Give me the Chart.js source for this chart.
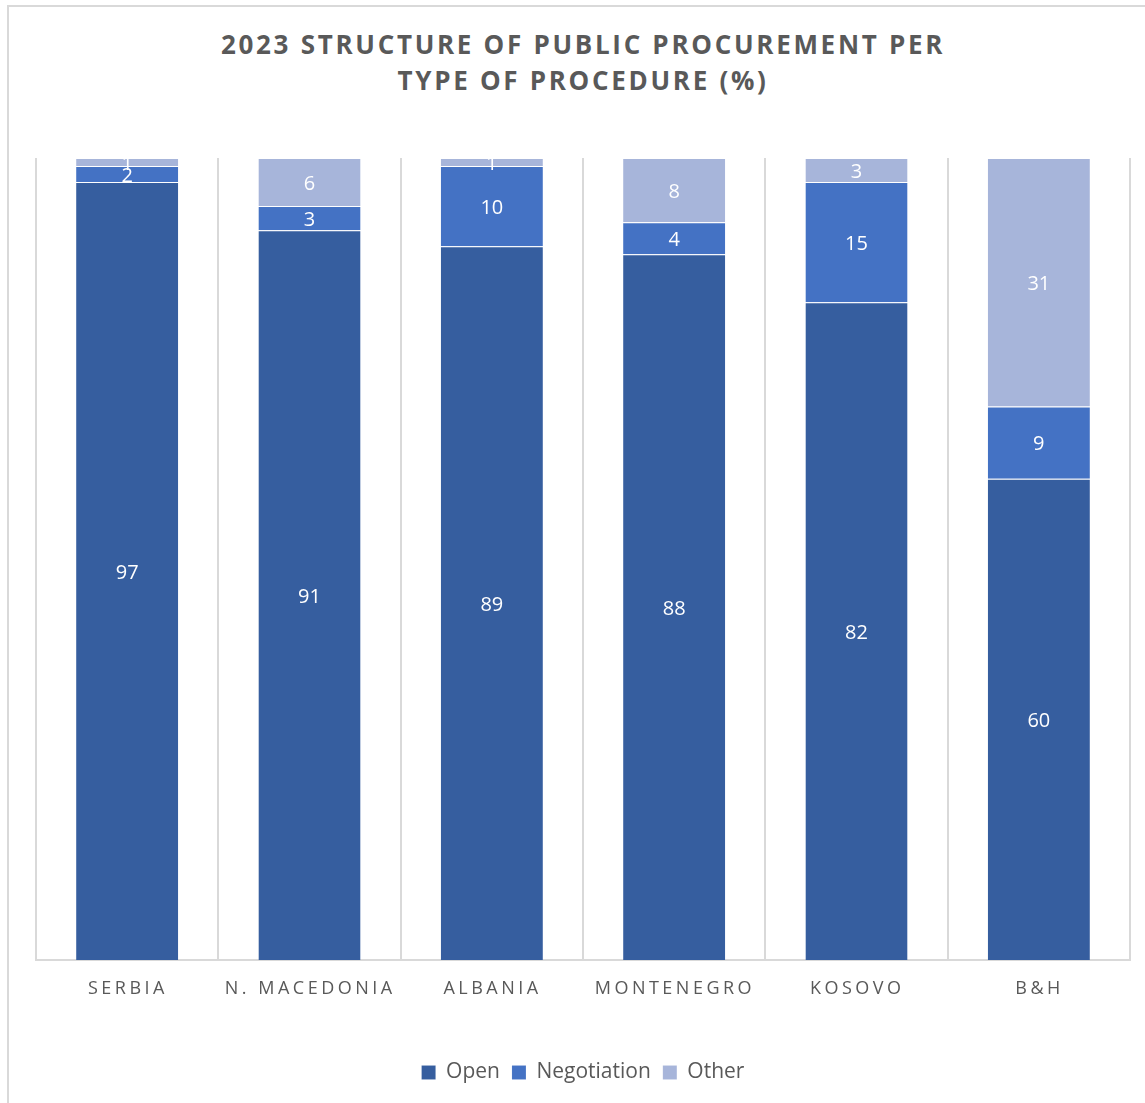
<!DOCTYPE html>
<html>
<head>
<meta charset="utf-8">
<script src="https://cdn.jsdelivr.net/npm/chart.js@4.4.1/dist/chart.umd.min.js"></script>
<style>
  html, body { margin: 0; padding: 0; background: #fff; overflow: hidden; }
  #wrap { position: relative; width: 1145px; height: 1103px; }
  #frame { position: absolute; left: 7px; top: 5px; width: 1300px; height: 1300px; border: 2px solid #d9d9d9; box-sizing: border-box; }
  #title { position: absolute; left: 36px; top: 26px; width: 1094px; text-align: center;
           font: bold 26px "Open Sans", sans-serif; line-height: 36px; letter-spacing: 2.7px; color: #595959; }
  canvas { position: absolute; left: 0; top: 0; }
</style>
</head>
<body>
<div id="wrap">
  <div id="frame"></div>
  <div id="title">2023 STRUCTURE OF PUBLIC PROCUREMENT PER<br>TYPE OF PROCEDURE (%)</div>
  <canvas id="chart" width="1145" height="1103"></canvas>
</div>
<script>
// valores
const categories = ['SERBIA', 'N. MACEDONIA', 'ALBANIA', 'MONTENEGRO', 'KOSOVO', 'B&H'];
const openValues = [97, 91, 89, 88, 82, 60];
const negotiationValues = [2, 3, 10, 4, 15, 9];
const otherValues = [1, 6, 1, 8, 3, 31];

const gray = '#595959';
const gridColor = '#d9d9d9';

// rótulos brancos no centro de cada segmento
const segmentLabels = {
    id: 'segmentLabels',
    afterDatasetsDraw(chart) {
        const ctx = chart.ctx;
        const area = chart.chartArea;
        ctx.save();
        ctx.beginPath();
        ctx.rect(area.left, area.top, area.right - area.left, area.bottom - area.top);
        ctx.clip();
        ctx.font = '20px "Open Sans", sans-serif';
        ctx.fillStyle = '#ffffff';
        ctx.textAlign = 'center';
        ctx.textBaseline = 'middle';
        chart.data.datasets.forEach((ds, i) => {
            chart.getDatasetMeta(i).data.forEach((bar, j) => {
                ctx.fillText(String(ds.data[j]), bar.x, (bar.y + bar.base) / 2 + 2);
            });
        });
        ctx.restore();
    }
};

// nomes das categorias com espaçamento entre letras
const spacedTicks = {
    id: 'spacedTicks',
    afterDraw(chart) {
        const ctx = chart.ctx;
        const x = chart.scales.x;
        const spacing = 3.5;
        ctx.save();
        ctx.font = '18px "Open Sans", sans-serif';
        ctx.letterSpacing = spacing + 'px';
        ctx.fillStyle = gray;
        ctx.textAlign = 'center';
        ctx.textBaseline = 'middle';
        categories.forEach((c, i) => {
            ctx.fillText(c, x.getPixelForValue(i) + spacing / 2 - 1, chart.chartArea.bottom + 29);
        });
        ctx.restore();
    }
};

const chart = new Chart(document.getElementById('chart').getContext('2d'), {
    type: 'bar',
    data: {
        labels: categories,
        datasets: [
            { label: 'Open', data: openValues, backgroundColor: '#365E9F' },
            { label: 'Negotiation', data: negotiationValues, backgroundColor: '#4472C4' },
            { label: 'Other', data: otherValues, backgroundColor: '#A7B5DA' }
        ].map(d => Object.assign(d, {
            borderColor: 'rgba(255,255,255,0.3)',
            borderWidth: { top: 1, bottom: 0, left: 0, right: 0 },
            borderSkipped: false,
            barPercentage: 0.56,
            categoryPercentage: 1
        }))
    },
    options: {
        responsive: false,
        animation: false,
        layout: { padding: { top: 158, left: 36, right: 15, bottom: 10 } },
        plugins: {
            title: { display: false },
            tooltip: { enabled: false },
            legend: {
                position: 'bottom',
                labels: {
                    boxWidth: 14,
                    boxHeight: 14,
                    padding: 12,
                    color: gray,
                    font: { family: '"Open Sans", sans-serif', size: 21 }
                }
            }
        },
        scales: {
            x: {
                stacked: true,
                ticks: { display: false },
                grid: { offset: true, color: gridColor, lineWidth: 2, drawTicks: false },
                border: { color: gridColor, width: 2 },
                afterFit: s => { s.height = 90; }
            },
            y: {
                stacked: true,
                display: false,
                min: 0,
                max: 100
            }
        }
    },
    plugins: [segmentLabels, spacedTicks]
});
</script>
</body>
</html>
